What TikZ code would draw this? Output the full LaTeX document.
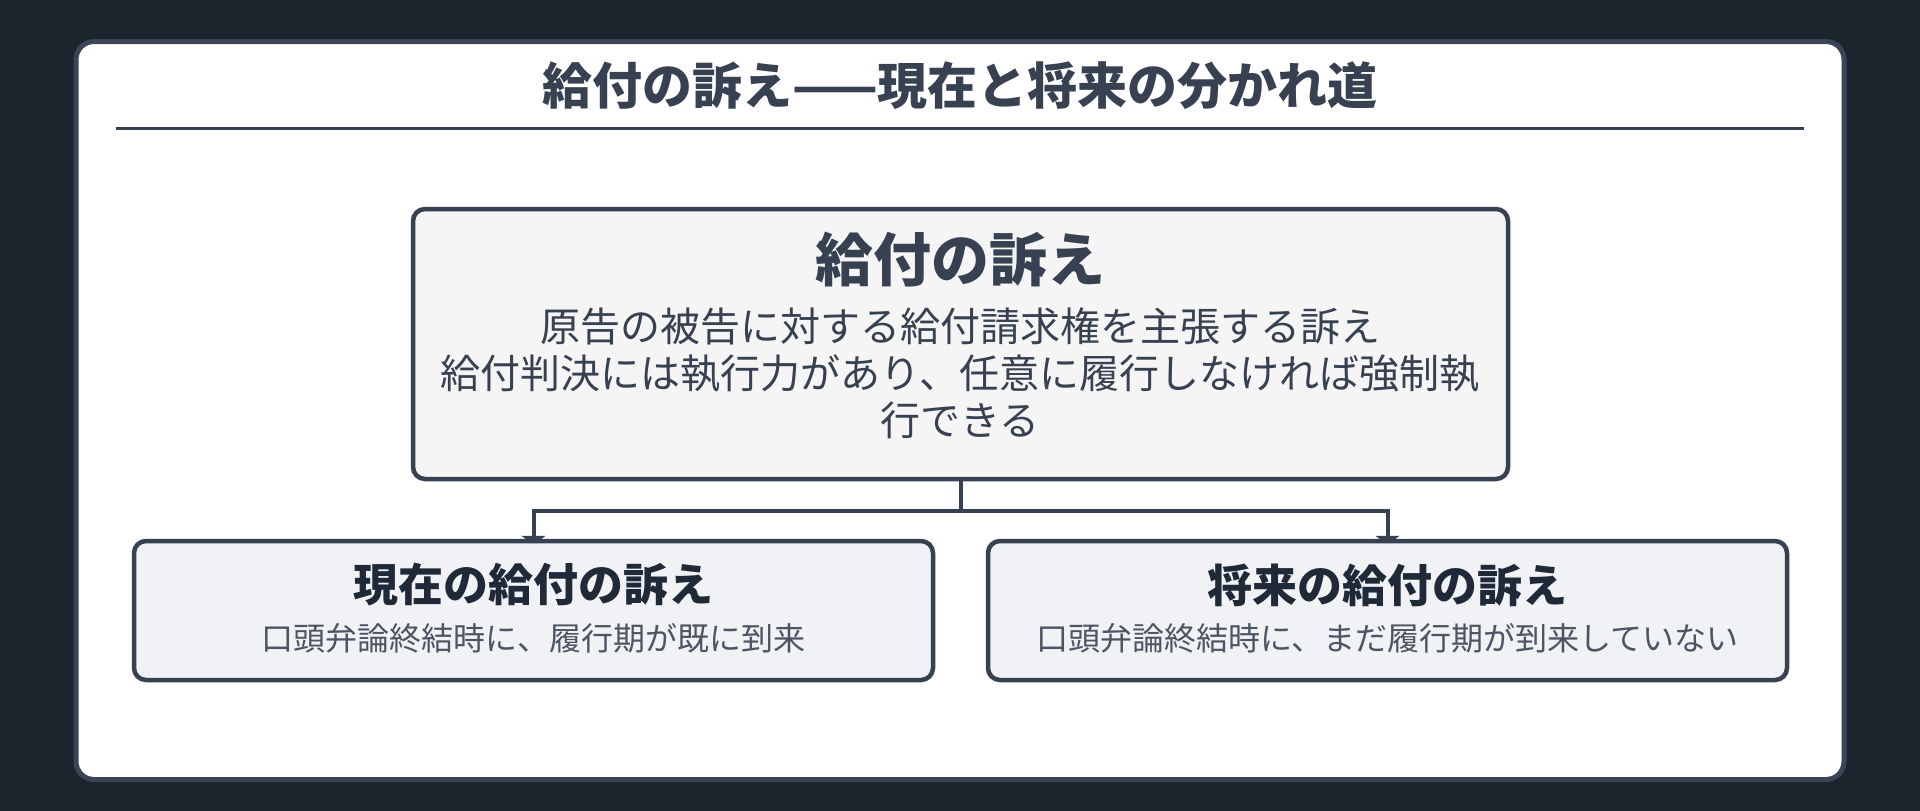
\documentclass[tikz,border=0pt]{standalone}
\usepackage{fontspec}
\setmainfont{Noto Sans CJK JP}
\usepackage{xcolor}
\usepackage{tikz}
\usetikzlibrary{arrows.meta}
\definecolor{bg}{HTML}{1E242E}
\definecolor{frame}{HTML}{3B4555}
\definecolor{ink}{HTML}{374151}
\definecolor{inkdark}{HTML}{1F2937}
\definecolor{muted}{HTML}{4B5563}
\definecolor{rootfill}{HTML}{F5F5F5}
\definecolor{leaffill}{HTML}{F0F2F5}
\pgfdeclarelayer{back}
\pgfdeclarelayer{links}
\pgfsetlayers{back,links,main}
\tikzset{
  card/.style={draw=frame, fill=white, line width=5pt, rounded corners=18pt},
  rule/.style={draw=ink, line width=2.5pt},
  rootbox/.style={draw=ink, fill=rootfill, line width=4.5pt, rounded corners=12pt,
    minimum width=1095pt, minimum height=270pt, inner sep=0pt},
  leafbox/.style={draw=ink, fill=leaffill, line width=4.5pt, rounded corners=12pt,
    minimum width=799pt, minimum height=139pt, inner sep=0pt},
  link/.style={draw=ink, line width=4pt, -{Triangle[width=24pt,length=9pt]}},
  headline/.style={text=ink, font=\fontsize{50}{60}\selectfont\bfseries},
  roottitle/.style={text=ink, font=\fontsize{58}{68}\selectfont\bfseries},
  rootbody/.style={text=ink, align=center, font=\fontsize{40}{47}\selectfont},
  leaftitle/.style={text=inkdark, font=\fontsize{45}{54}\selectfont\bfseries},
  leafnote/.style={text=muted, font=\fontsize{32}{38}\selectfont}
}

\begin{document}
\begin{tikzpicture}[x=1pt, y=-1pt]
  \useasboundingbox (0,0) rectangle (1920,811);
  \begin{pgfonlayer}{back}
    \fill[bg] (0,0) rectangle (1920,811);
    \draw[card] (76,41.5) rectangle (1844,779.5);
  \end{pgfonlayer}

  \node[headline] (head) at (960,86) {給付の訴え——現在と将来の分かれ道};
  \draw[rule] (116,128.6) -- (1804,128.6);

  % root and its two branches
  \node[rootbox] (root) at (960.5,344) {};
  \node[roottitle] (rootname) at (960,260) {給付の訴え};
  \node[rootbody] (rootdesc) at (960,373) {原告の被告に対する給付請求権を主張する訴え\\給付判決には執行力があり、任意に履行しなければ強制執\\行できる};

  \node[leafbox] (now) at (533.5,610.5) {};
  \node[leaftitle] (nowname) at (533.5,585) {現在の給付の訴え};
  \node[leafnote] (nownote) at (533.5,638) {口頭弁論終結時に、履行期が既に到来};

  \node[leafbox] (later) at (1387.5,610.5) {};
  \node[leaftitle] (latername) at (1387.5,585) {将来の給付の訴え};
  \node[leafnote] (laternote) at (1387.5,638) {口頭弁論終結時に、まだ履行期が到来していない};

  \coordinate (fork) at (960.5,510.5);
  \begin{pgfonlayer}{links}
    \draw[link] (root.south) -- (fork) -| ([yshift=-6pt]now.north);
    \draw[link] (root.south) -- (fork) -| ([yshift=-6pt]later.north);
  \end{pgfonlayer}
\end{tikzpicture}
\end{document}
